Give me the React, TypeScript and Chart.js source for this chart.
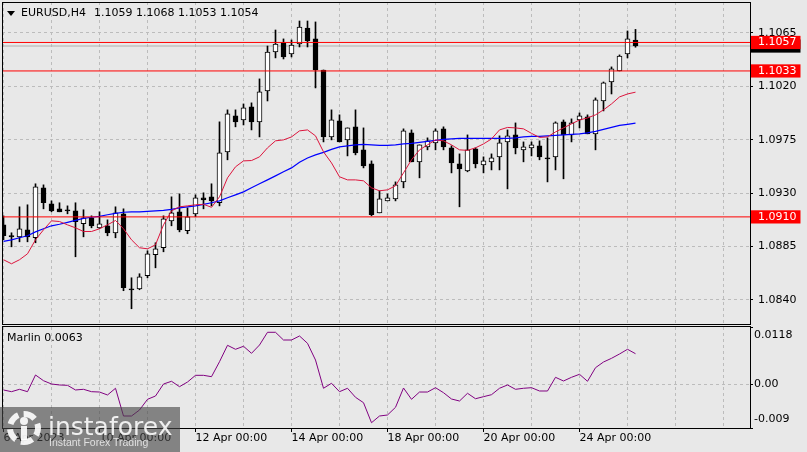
import React, { useEffect, useRef } from "react";
import { Chart, registerables } from "chart.js";

Chart.register(...registerables);

// ---------- DATA ----------
const opens = [
  1.09033, 1.08941, 1.08932, 1.08991, 1.08924, 1.09345, 1.0921, 1.09168, 1.0916, 1.09151,
  1.09042, 1.09092, 1.09008, 1.09025, 1.08966, 1.09126, 1.08494, 1.08494, 1.08604, 1.08781,
  1.0884, 1.09067, 1.09143, 1.08983, 1.09126, 1.09261, 1.09269, 1.09219, 1.09648, 1.09951,
  1.09917, 1.10027, 1.09901, 1.10162, 1.1049, 1.10566, 1.10473, 1.10557, 1.10692, 1.106,
  1.10338, 1.09774, 1.09909, 1.09749, 1.09859, 1.09665, 1.09547, 1.09134, 1.09235, 1.09252,
  1.09395, 1.09808, 1.09564, 1.0969, 1.09724, 1.09842, 1.09682, 1.09547, 1.09488, 1.09673,
  1.09539, 1.09564, 1.09606, 1.09732, 1.09791, 1.09665, 1.09682, 1.09699, 1.09598, 1.09606,
  1.09901, 1.09791, 1.09917, 1.09943, 1.098, 1.10077, 1.10237, 1.1033, 1.10473, 1.1059,
];
const highs = [
  1.09109, 1.08966, 1.09185, 1.09202, 1.09379, 1.0937, 1.09235, 1.09219, 1.09193, 1.09219,
  1.0916, 1.09109, 1.09143, 1.09075, 1.09185, 1.09168, 1.08587, 1.08621, 1.08814, 1.08882,
  1.09109, 1.09269, 1.09294, 1.09176, 1.09286, 1.09303, 1.09379, 1.09901, 1.10002, 1.10002,
  1.10052, 1.10061, 1.10263, 1.1054, 1.10675, 1.106, 1.10591, 1.10751, 1.10751, 1.10743,
  1.10338, 1.10002, 1.0996, 1.0985, 1.10002, 1.0985, 1.09572, 1.0932, 1.09294, 1.09395,
  1.09842, 1.09833, 1.09707, 1.09766, 1.09842, 1.09859, 1.09699, 1.09631, 1.09791, 1.09682,
  1.09606, 1.09631, 1.09783, 1.09833, 1.09892, 1.09732, 1.09732, 1.09741, 1.09766, 1.09901,
  1.09917, 1.09926, 1.09976, 1.0996, 1.10103, 1.10237, 1.10364, 1.10465, 1.10667, 1.1068,
];
const lows = [
  1.08907, 1.08848, 1.0889, 1.0889, 1.08882, 1.09168, 1.09143, 1.09143, 1.09126, 1.08764,
  1.08932, 1.09008, 1.09, 1.08941, 1.08924, 1.08478, 1.08326, 1.08486, 1.08587, 1.08671,
  1.08806, 1.09025, 1.08974, 1.08958, 1.09101, 1.09168, 1.09193, 1.09193, 1.09581, 1.09859,
  1.09875, 1.09833, 1.09774, 1.10077, 1.1044, 1.10431, 1.10448, 1.10532, 1.10532, 1.10187,
  1.09732, 1.09749, 1.09732, 1.09614, 1.09623, 1.09513, 1.09109, 1.09134, 1.09235, 1.09235,
  1.09345, 1.09564, 1.09429, 1.09665, 1.09665, 1.09665, 1.09471, 1.09185, 1.0948, 1.09513,
  1.09471, 1.09496, 1.09496, 1.09336, 1.09631, 1.09564, 1.09614, 1.09581, 1.09395, 1.09496,
  1.09421, 1.09732, 1.0985, 1.098, 1.09665, 1.09993, 1.10136, 1.1033, 1.1044, 1.1053,
];
const closes = [
  1.08941, 1.08932, 1.09, 1.08932, 1.09353, 1.09219, 1.09151, 1.09143, 1.0915, 1.09059,
  1.09092, 1.09025, 1.09042, 1.08966, 1.09134, 1.08503, 1.08484, 1.08595, 1.08789, 1.08831,
  1.09084, 1.09134, 1.08991, 1.09101, 1.09261, 1.09244, 1.09235, 1.0964, 1.09968, 1.09901,
  1.10019, 1.09901, 1.10153, 1.1049, 1.10557, 1.10448, 1.10549, 1.107, 1.10583, 1.10338,
  1.09774, 1.09917, 1.09732, 1.0985, 1.0964, 1.0953, 1.09118, 1.09252, 1.09261, 1.0937,
  1.09825, 1.09564, 1.09707, 1.09741, 1.09825, 1.0969, 1.09555, 1.09505, 1.09665, 1.09547,
  1.09572, 1.09598, 1.09724, 1.09783, 1.09682, 1.0969, 1.09707, 1.09606, 1.09588, 1.09892,
  1.09791, 1.09892, 1.09951, 1.098, 1.10086, 1.10229, 1.10347, 1.10456, 1.106, 1.1054,
];
const maFast = [
  1.08739, 1.08705, 1.08739, 1.08789, 1.08907, 1.08991, 1.09067, 1.09061, 1.09033, 1.09008,
  1.08977, 1.08977, 1.09, 1.09033, 1.0907, 1.09, 1.08907, 1.0884, 1.08831, 1.08865,
  1.09033, 1.09151, 1.09185, 1.09193, 1.09202, 1.09206, 1.09181, 1.09269, 1.09429, 1.09522,
  1.09572, 1.09575, 1.09606, 1.09682, 1.09741, 1.09749, 1.09774, 1.09825, 1.09833, 1.09783,
  1.09648, 1.09555, 1.09438, 1.09412, 1.09412, 1.09404, 1.09345, 1.0932, 1.09328, 1.09362,
  1.09471, 1.09581, 1.09665, 1.09707, 1.09749, 1.09741, 1.09707, 1.09665, 1.09661, 1.09682,
  1.09715, 1.09757, 1.09833, 1.09854, 1.0985, 1.09842, 1.09804, 1.0977, 1.09774, 1.09816,
  1.0985, 1.09884, 1.09917, 1.09934, 1.0996, 1.10002, 1.10052, 1.10111, 1.10136, 1.10151,
];
const maSlow = [
  1.08893, 1.08907, 1.08924, 1.08941, 1.08974, 1.09, 1.09025, 1.09038, 1.09054, 1.09071,
  1.09088, 1.09097, 1.09105, 1.09118, 1.0913, 1.09139, 1.09143, 1.09143, 1.09147, 1.09151,
  1.09155, 1.09164, 1.09176, 1.09185, 1.09193, 1.09206, 1.09219, 1.09235, 1.09261, 1.09286,
  1.09311, 1.09345, 1.09379, 1.09412, 1.09446, 1.0948, 1.09513, 1.0956, 1.09597, 1.09623,
  1.09644, 1.09669, 1.0969, 1.09699, 1.09707, 1.09711, 1.09707, 1.09703, 1.09703, 1.09707,
  1.09715, 1.0972, 1.09728, 1.09736, 1.09745, 1.09753, 1.09757, 1.09762, 1.09762, 1.09762,
  1.09762, 1.09762, 1.09762, 1.09762, 1.09766, 1.09774, 1.09779, 1.09779, 1.09783, 1.09787,
  1.09791, 1.09795, 1.098, 1.09808, 1.09821, 1.09837, 1.09854, 1.09871, 1.0988, 1.0989,
];
const marlin = [
  -0.00117, -0.00152, -0.00103, -0.00152, 0.00192, 0.00074, 0.00006, -0.00014, -0.00021, -0.00117,
  -0.00103, -0.00152, -0.00159, -0.0022, -0.00082, -0.00653, -0.00653, -0.00529, -0.00309, -0.00241,
  0.00006, 0.00062, -0.00049, 0.00047, 0.00185, 0.00185, 0.00157, 0.00465, 0.00803, 0.00721,
  0.00783, 0.00638, 0.00809, 0.01071, 0.01071, 0.00912, 0.00912, 0.00995, 0.00844, 0.005,
  -0.00082, 0.00021, -0.00152, -0.00082, -0.00268, -0.00379, -0.00791, -0.00653, -0.00632, -0.00474,
  -0.00076, -0.00309, -0.00159, -0.00159, -0.0007, -0.00173, -0.00303, -0.00344, -0.00185, -0.00297,
  -0.00255, -0.00214, -0.00082, -0.00014, -0.00103, -0.00082, -0.0007, -0.00138, -0.00138, 0.00144,
  0.00068, 0.00144, 0.00206, 0.00062, 0.00342, 0.00459, 0.00535, 0.00624, 0.00721, 0.0063,
];
const levelPrices = [1.1057, 1.1033, 1.091];
const bidPrice = 1.1054;
const priceTicks = [1.1065, 1.102, 1.0975, 1.093, 1.0885, 1.084];
const marlinTicks = [0.0118, 0, -0.009];
const timeLabels = [
  "6 Apr 2023", "10 Apr 00:00", "12 Apr 00:00", "14 Apr 00:00",
  "18 Apr 00:00", "20 Apr 00:00", "24 Apr 00:00",
];
const barsPerDay = 6;
const barsPerLabel = 12;
const dayCount = 16;
const symbolText = "EURUSD,H4";
const ohlcText = "1.1059 1.1068 1.1053 1.1054";
const marlinText = "Marlin 0.0063";

// ---------- SCALE RANGES ----------
const X_MIN = -0.1875;
const X_MAX = 93.3125;
const PRICE_MIN = 1.08189;
const PRICE_MAX = 1.10911;
const MARLIN_MIN = -0.009;
const MARLIN_MAX = 0.0118;

// ---------- STYLE ----------
const FONT = '"DejaVu Sans", sans-serif';
const BG = "#e8e8e8";
const GRID = "#bcbcbc";
const CLEAR = "rgba(0,0,0,0)";
const DASH = [3, 3];

Chart.defaults.font.family = FONT;
Chart.defaults.font.size = 11;
Chart.defaults.color = "#000";

const dayTicks = Array.from({ length: dayCount }, (_, k) => k * barsPerDay);
const labelTicks = timeLabels.map((_, k) => k * barsPerLabel);

const near = (a: number, b: number) => Math.abs(a - b) < 1e-9;

const noPad = (s: any) => {
  s.paddingTop = 0;
  s.paddingBottom = 0;
  s.paddingLeft = 0;
  s.paddingRight = 0;
};

const paneBorder = (topOff: number, botOff: number) => ({
  id: "paneBorder",
  afterDraw(chart: any) {
    const { ctx, chartArea: a } = chart;
    ctx.save();
    ctx.setLineDash([]);
    ctx.strokeStyle = "#000";
    ctx.lineWidth = 1;
    const x1 = a.left + 0.5;
    const x2 = a.right + 0.5;
    const y1 = a.top + topOff;
    const y2 = a.bottom + botOff;
    ctx.strokeRect(x1, y1, x2 - x1, y2 - y1);
    ctx.restore();
  },
});

function buildMain(canvas: HTMLCanvasElement) {
  const idx = opens.map((_, i) => i);
  const pts = (arr: number[]) => arr.map((v, i) => ({ x: i, y: v }));
  const flat = (p: number) => [
    { x: X_MIN, y: p },
    { x: X_MAX, y: p },
  ];
  const isLevel = (v: number) => levelPrices.some((p) => near(p, v));
  const isBid = (v: number) => near(v, bidPrice);
  const tickVal = (ctx: any) => (ctx && ctx.tick ? ctx.tick.value : NaN);

  return new Chart(canvas, {
    type: "bar",
    data: {
      datasets: [
        ...levelPrices.map((p) => ({
          type: "line" as const,
          data: flat(p),
          borderColor: "#ff0000",
          borderWidth: 1,
          pointRadius: 0,
          order: 0,
        })),
        {
          type: "line" as const,
          data: pts(maFast),
          borderColor: "#dc143c",
          borderWidth: 1,
          pointRadius: 0,
          order: 1,
        },
        {
          type: "line" as const,
          data: pts(maSlow),
          borderColor: "#0000ff",
          borderWidth: 1.2,
          pointRadius: 0,
          order: 1,
        },
        {
          type: "bar" as const,
          data: idx.map((i) => ({ x: i, y: [opens[i], closes[i]] })),
          backgroundColor: idx.map((i) => (closes[i] >= opens[i] ? "#ffffff" : "#000000")),
          borderColor: "#000000",
          borderWidth: 1,
          borderSkipped: false,
          barThickness: 5,
          grouped: false,
          minBarLength: 1.2,
          order: 2,
        },
        {
          type: "bar" as const,
          data: idx.map((i) => ({ x: i, y: [lows[i], highs[i]] })),
          backgroundColor: "#000000",
          borderWidth: 0,
          barThickness: 1,
          grouped: false,
          order: 3,
        },
        {
          type: "line" as const,
          data: flat(bidPrice),
          borderColor: "#b0b0b0",
          borderWidth: 1,
          pointRadius: 0,
          order: 4,
        },
      ] as any,
    },
    options: {
      responsive: false,
      animation: false,
      events: [],
      layout: { padding: { left: 2, top: 2, right: 0, bottom: 1 } },
      plugins: { legend: { display: false }, tooltip: { enabled: false } },
      scales: {
        x: {
          type: "linear",
          min: X_MIN,
          max: X_MAX,
          offset: false,
          afterBuildTicks: (s: any) => {
            s.ticks = dayTicks.map((v) => ({ value: v }));
          },
          afterFit: (s: any) => {
            s.height = 0;
            noPad(s);
          },
          ticks: { display: false },
          grid: { color: GRID, drawTicks: false, offset: false, lineWidth: 1 },
          border: { display: false, dash: DASH },
        },
        y: {
          type: "linear",
          position: "right",
          min: PRICE_MIN,
          max: PRICE_MAX,
          beginAtZero: false,
          afterBuildTicks: (s: any) => {
            s.ticks = [...priceTicks, bidPrice, ...levelPrices].map((v) => ({ value: v }));
          },
          afterFit: (s: any) => {
            s.width = 57;
            noPad(s);
          },
          ticks: {
            autoSkip: false,
            padding: 5,
            font: { family: FONT, size: 11 },
            callback: (v: any) => Number(v).toFixed(4),
            color: (ctx: any) => {
              const v = tickVal(ctx);
              if (isLevel(v)) return "#ffffff";
              return "#000000";
            },
            showLabelBackdrop: (ctx: any) => {
              const v = tickVal(ctx);
              return isLevel(v) || isBid(v);
            },
            backdropColor: (ctx: any) => (isBid(tickVal(ctx)) ? "#000000" : "#ff0000"),
            backdropPadding: { left: 7, right: 4, top: 0, bottom: 0 },
          } as any,
          grid: {
            color: (ctx: any) => {
              const v = tickVal(ctx);
              return isLevel(v) || isBid(v) ? CLEAR : GRID;
            },
            tickColor: (ctx: any) => {
              const v = tickVal(ctx);
              return isLevel(v) || isBid(v) ? CLEAR : "#000000";
            },
            tickLength: 3,
            tickBorderDash: [],
            drawTicks: true,
          } as any,
          border: { display: false, dash: DASH },
        },
      },
    } as any,
    plugins: [paneBorder(0.5, -0.5)],
  });
}

function buildSub(canvas: HTMLCanvasElement) {
  const tickVal = (ctx: any) => (ctx && ctx.tick ? ctx.tick.value : NaN);
  return new Chart(canvas, {
    type: "line",
    data: {
      datasets: [
        {
          data: marlin.map((v, i) => ({ x: i, y: v })),
          borderColor: "#800080",
          borderWidth: 1,
          pointRadius: 0,
        },
      ],
    },
    options: {
      responsive: false,
      animation: false,
      events: [],
      layout: { padding: { left: 2, top: 1, right: 0, bottom: 0 } },
      plugins: { legend: { display: false }, tooltip: { enabled: false } },
      scales: {
        x: {
          type: "linear",
          min: X_MIN,
          max: X_MAX,
          offset: false,
          afterBuildTicks: (s: any) => {
            s.ticks = dayTicks.map((v) => ({ value: v }));
          },
          afterFit: (s: any) => {
            s.height = 24;
            noPad(s);
          },
          ticks: {
            autoSkip: false,
            maxRotation: 0,
            minRotation: 0,
            align: "start",
            padding: 0,
            color: "#000",
            font: { family: FONT, size: 11 },
            callback: (v: any) => {
              const k = labelTicks.indexOf(Number(v));
              return k >= 0 ? timeLabels[k] : "";
            },
          },
          grid: {
            color: GRID,
            offset: false,
            drawTicks: true,
            tickLength: 4,
            tickBorderDash: [],
            tickColor: (ctx: any) => (labelTicks.includes(tickVal(ctx)) ? "#000000" : CLEAR),
          } as any,
          border: { display: false, dash: DASH },
        },
        y: {
          type: "linear",
          position: "right",
          min: MARLIN_MIN,
          max: MARLIN_MAX,
          afterBuildTicks: (s: any) => {
            s.ticks = marlinTicks.map((v) => ({ value: v }));
          },
          afterFit: (s: any) => {
            s.width = 57;
            noPad(s);
          },
          ticks: {
            autoSkip: false,
            padding: 1,
            font: { family: FONT, size: 11, lineHeight: "17px" },
            callback: (v: any) => {
              const n = Number(v);
              if (near(n, MARLIN_MAX)) return ["", "0.0118"];
              if (near(n, MARLIN_MIN)) return ["-0.009", ""];
              return "0.00";
            },
          },
          grid: {
            color: (ctx: any) => (near(tickVal(ctx), 0) ? GRID : CLEAR),
            tickColor: "#000000",
            tickLength: 3,
            tickBorderDash: [],
            drawTicks: true,
          } as any,
          border: { display: false, dash: DASH },
        },
      },
    } as any,
    plugins: [paneBorder(-0.5, 0.5)],
  });
}

export default function App() {
  const mainRef = useRef<HTMLCanvasElement>(null);
  const subRef = useRef<HTMLCanvasElement>(null);

  useEffect(() => {
    const c1 = buildMain(mainRef.current as HTMLCanvasElement);
    const c2 = buildSub(subRef.current as HTMLCanvasElement);
    return () => {
      c1.destroy();
      c2.destroy();
    };
  }, []);

  const text11: React.CSSProperties = {
    position: "absolute",
    font: `11px ${FONT}`,
    lineHeight: "13px",
    color: "#000",
    whiteSpace: "pre",
  };

  return (
    <div
      style={{
        position: "absolute",
        left: 0,
        top: 0,
        width: 807,
        height: 452,
        background: BG,
        overflow: "hidden",
      }}
    >
      <canvas
        ref={mainRef}
        width={807}
        height={326}
        style={{ position: "absolute", left: 0, top: 0, width: 807, height: 326 }}
      />
      <canvas
        ref={subRef}
        width={807}
        height={126}
        style={{ position: "absolute", left: 0, top: 326, width: 807, height: 126 }}
      />
      <div
        style={{
          position: "absolute",
          left: 7,
          top: 11,
          width: 0,
          height: 0,
          borderLeft: "4px solid transparent",
          borderRight: "4px solid transparent",
          borderTop: "5px solid #000",
        }}
      />
      <div style={{ ...text11, left: 21, top: 6 }}>{symbolText}</div>
      <div style={{ ...text11, left: 94, top: 6 }}>{ohlcText}</div>
      <div style={{ ...text11, left: 7, top: 331 }}>{marlinText}</div>

      <div
        style={{
          position: "absolute",
          left: 0,
          top: 407,
          width: 180,
          height: 45,
          background: "rgba(70,70,70,0.62)",
          overflow: "hidden",
        }}
      >
        <div
          style={{
            position: "absolute",
            left: 7,
            top: 4,
            width: 22,
            height: 22,
            borderRadius: "50%",
            border: "6px dashed rgba(255,255,255,0.9)",
          }}
        />
        <div
          style={{
            position: "absolute",
            left: 20,
            top: 10,
            width: 8,
            height: 8,
            borderRadius: "50%",
            background: "rgba(255,255,255,0.9)",
          }}
        />
        <div
          style={{
            position: "absolute",
            left: 21,
            top: 19,
            width: 6,
            height: 14,
            background: "rgba(255,255,255,0.9)",
          }}
        />
        <div
          style={{
            position: "absolute",
            left: 48,
            top: 7,
            font: `25px ${FONT}`,
            lineHeight: "25px",
            color: "rgba(255,255,255,0.88)",
            whiteSpace: "pre",
          }}
        >
          instaforex
        </div>
        <div
          style={{
            position: "absolute",
            left: 49,
            top: 29,
            font: '10.5px "Liberation Sans", sans-serif',
            lineHeight: "12px",
            color: "rgba(240,240,240,0.85)",
            whiteSpace: "pre",
          }}
        >
          Instant Forex Trading
        </div>
      </div>
    </div>
  );
}
